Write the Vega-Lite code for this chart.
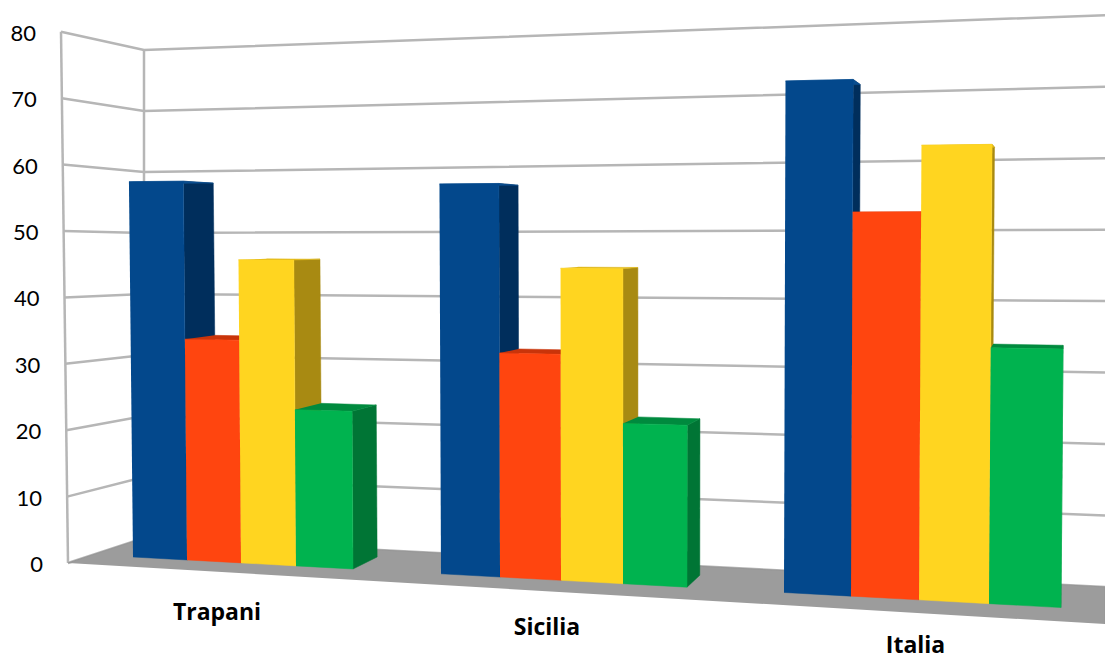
{
  "$schema": "https://vega.github.io/schema/vega-lite/v6.json",
  "width": 1105,
  "height": 660,
  "padding": 0,
  "autosize": {"type": "none"},
  "background": "white",
  "config": {"view": {"stroke": null}},
  "params": [
    {"name": "places", "expr": "['Trapani','Sicilia','Italia']"},
    {"name": "seriesNames", "expr": "['A','B','C','D']"},
    {"name": "edges", "expr": "[[133,187,241,296,353],[441,500,561,623,687],[784,851,919,989,1061]]"}
  ],
  "datasets": {
    "bars": [
      {"place": "Trapani", "series": "A", "value": 58.0},
      {"place": "Trapani", "series": "B", "value": 33.8},
      {"place": "Trapani", "series": "C", "value": 46.0},
      {"place": "Trapani", "series": "D", "value": 23.5},
      {"place": "Sicilia", "series": "A", "value": 57.3},
      {"place": "Sicilia", "series": "B", "value": 32.6},
      {"place": "Sicilia", "series": "C", "value": 45.0},
      {"place": "Sicilia", "series": "D", "value": 22.9},
      {"place": "Italia", "series": "A", "value": 71.3},
      {"place": "Italia", "series": "B", "value": 53.0},
      {"place": "Italia", "series": "C", "value": 62.1},
      {"place": "Italia", "series": "D", "value": 34.6}
    ],
    "levels": [
      {"level": 0}, {"level": 10}, {"level": 20}, {"level": 30}, {"level": 40},
      {"level": 50}, {"level": 60}, {"level": 70}, {"level": 80}
    ]
  },
  "encoding": {
    "x": {"field": "px", "type": "quantitative", "axis": null, "scale": {"domain": [0, 1105], "range": [0, 1105]}},
    "y": {"field": "py", "type": "quantitative", "axis": null, "scale": {"domain": [0, 660], "range": [0, 660]}}
  },
  "layer": [
    {
      "description": "Back and side wall gridlines, one polyline per axis level",
      "data": {"name": "levels"},
      "transform": [
        {"calculate": "[0,1,2]", "as": "n"},
        {"flatten": ["n"]},
        {"calculate": "datum.n == 0 ? 68 - 0.0875 * datum.level : datum.n == 1 ? 144 : 1105", "as": "px"},
        {"calculate": "datum.n == 0 ? 563 - 6.64 * datum.level : (538 + (datum.px - 144) * 0.051) - datum.level * (6.1 + (datum.px - 144) * 0.00109)", "as": "py"}
      ],
      "mark": {"type": "line", "stroke": "#b6b6b6", "strokeWidth": 2.5},
      "encoding": {
        "detail": {"field": "level"},
        "order": {"field": "n"}
      }
    },
    {
      "description": "Vertical wall edges",
      "data": {"name": "levels"},
      "transform": [
        {"filter": "datum.level == 0 || datum.level == 80"},
        {"calculate": "[0,1]", "as": "wall"},
        {"flatten": ["wall"]},
        {"calculate": "datum.wall == 0 ? 68 - 0.0875 * datum.level : 144", "as": "px"},
        {"calculate": "datum.wall == 0 ? 563 - 6.64 * datum.level : 538 - datum.level * 6.1", "as": "py"}
      ],
      "mark": {"type": "line", "stroke": "#b6b6b6", "strokeWidth": 2.5},
      "encoding": {
        "detail": {"field": "wall"},
        "order": {"field": "level"}
      }
    },
    {
      "description": "Chart floor",
      "data": {"values": [{"corner": 0}, {"corner": 1}, {"corner": 2}, {"corner": 3}]},
      "transform": [
        {"calculate": "[68,144,1105,1105][datum.corner]", "as": "px"},
        {"calculate": "[563,538,587,624][datum.corner]", "as": "py"}
      ],
      "mark": {"type": "line", "fill": "#9c9c9c", "stroke": "#969696", "strokeWidth": 1},
      "encoding": {"order": {"field": "corner"}}
    },
    {
      "description": "Side and top faces, drawn before all front faces",
      "data": {"name": "bars"},
      "transform": [
        {"calculate": "indexof(places, datum.place)", "as": "p"},
        {"calculate": "indexof(seriesNames, datum.series)", "as": "s"},
        {"calculate": "['side','top']", "as": "face"},
        {"flatten": ["face"]},
        {"calculate": "datum.face == 'side' ? [[1,0,0,0],[1,0,1,1],[1,1,1,2],[1,1,0,3]] : [[0,1,0,0],[1,1,0,1],[1,1,1,2],[0,1,1,3]]", "as": "v"},
        {"flatten": ["v"]},
        {"calculate": "edges[datum.p][datum.s + datum.v[0]]", "as": "bx"},
        {"calculate": "datum.v[1] * datum.value", "as": "lvl"},
        {"calculate": "datum.bx + datum.lvl * (-0.07 + (datum.bx - 133) * 0.00014)", "as": "fx"},
        {"calculate": "datum.fx + datum.v[2] * max(0, 1063 - datum.fx) * 0.034", "as": "px"},
        {"calculate": "557 + (datum.bx - 133) * 0.0545 - datum.lvl * (6.53 + (datum.bx - 187) * 0.00108) + datum.v[2] * (-12 + 0.24 * datum.lvl)", "as": "py"},
        {"calculate": "datum.place + datum.series + datum.face", "as": "faceId"},
        {"calculate": "datum.series + ' ' + datum.face", "as": "shade"},
        {"calculate": "datum.v[3]", "as": "n"}
      ],
      "mark": {"type": "line", "strokeWidth": 0.5},
      "encoding": {
        "detail": {"field": "faceId"},
        "order": {"field": "n"},
        "fill": {
          "field": "shade", "type": "nominal", "legend": null,
          "scale": {
            "domain": ["A front", "A side", "A top", "B front", "B side", "B top", "C front", "C side", "C top", "D front", "D side", "D top"],
            "range": ["#03488c", "#002e5c", "#0a4e90", "#ff450f", "#b5350b", "#c9340a", "#ffd520", "#a88a12", "#e0b818", "#00b34f", "#007535", "#008a3e"]
          }
        },
        "stroke": {
          "field": "shade", "type": "nominal", "legend": null,
          "scale": {
            "domain": ["A front", "A side", "A top", "B front", "B side", "B top", "C front", "C side", "C top", "D front", "D side", "D top"],
            "range": ["#03488c", "#002e5c", "#0a4e90", "#ff450f", "#b5350b", "#c9340a", "#ffd520", "#a88a12", "#e0b818", "#00b34f", "#007535", "#008a3e"]
          }
        }
      }
    },
    {
      "description": "Front faces of the bars",
      "data": {"name": "bars"},
      "transform": [
        {"calculate": "indexof(places, datum.place)", "as": "p"},
        {"calculate": "indexof(seriesNames, datum.series)", "as": "s"},
        {"calculate": "[[0,0,0],[1,0,1],[1,1,2],[0,1,3]]", "as": "v"},
        {"flatten": ["v"]},
        {"calculate": "edges[datum.p][datum.s + datum.v[0]]", "as": "bx"},
        {"calculate": "datum.v[1] * datum.value", "as": "lvl"},
        {"calculate": "datum.bx + datum.lvl * (-0.07 + (datum.bx - 133) * 0.00014)", "as": "px"},
        {"calculate": "557 + (datum.bx - 133) * 0.0545 - datum.lvl * (6.53 + (datum.bx - 187) * 0.00108)", "as": "py"},
        {"calculate": "datum.place + datum.series", "as": "faceId"},
        {"calculate": "datum.series + ' front'", "as": "shade"},
        {"calculate": "datum.v[2]", "as": "n"}
      ],
      "mark": {"type": "line", "strokeWidth": 0.5},
      "encoding": {
        "detail": {"field": "faceId"},
        "order": {"field": "n"},
        "fill": {"field": "shade", "type": "nominal", "legend": null},
        "stroke": {"field": "shade", "type": "nominal", "legend": null}
      }
    },
    {
      "description": "Value axis labels along the left wall edge",
      "data": {"name": "levels"},
      "transform": [
        {"calculate": "43 - 0.0875 * datum.level", "as": "px"},
        {"calculate": "565 - 6.64 * datum.level", "as": "py"}
      ],
      "mark": {"type": "text", "align": "right", "baseline": "middle", "font": "Lato", "fontSize": 22, "color": "#000000"},
      "encoding": {"text": {"field": "level", "type": "quantitative"}}
    },
    {
      "description": "Category labels following the slanted floor edge",
      "data": {"name": "bars"},
      "transform": [
        {"filter": "datum.series == 'A'"},
        {"calculate": "indexof(places, datum.place)", "as": "p"},
        {"calculate": "(edges[datum.p][0] + edges[datum.p][4]) / 2", "as": "mid"},
        {"calculate": "datum.mid - 26 + (datum.mid - 243) * 0.028", "as": "px"},
        {"calculate": "557 + (datum.mid - 133) * 0.0545 + 50 - (datum.mid - 243) * 0.0065", "as": "py"}
      ],
      "mark": {"type": "text", "align": "center", "baseline": "middle", "font": "Open Sans", "fontWeight": "bold", "fontSize": 23, "color": "#000000"},
      "encoding": {"text": {"field": "place", "type": "nominal"}}
    }
  ]
}
